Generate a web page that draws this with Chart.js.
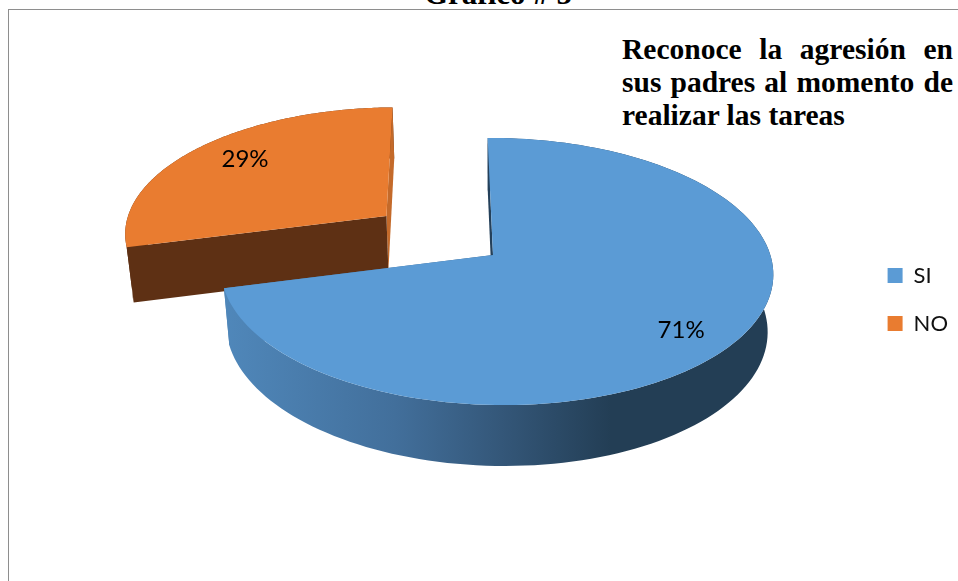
<!DOCTYPE html>
<html>
<head>
<meta charset="utf-8">
<script src="https://cdn.jsdelivr.net/npm/chart.js@4"></script>
<style>
  html, body { margin: 0; padding: 0; background: #fff; overflow: hidden; }
  #wrap { position: relative; width: 958px; height: 581px; overflow: hidden; }
  #frame { position: absolute; left: 8px; top: 9px; width: 960px; height: 600px; border: 1px solid #8e8e8e; }
  canvas { position: absolute; left: 0; top: 0; }
  #heading { position: absolute; left: 424px; top: -24px; font: bold 31px "Liberation Serif"; color: #000; white-space: nowrap; }
  #subtitle { position: absolute; left: 622px; top: 32.5px; width: 331px; font: bold 29.5px/33.4px "Liberation Serif"; color: #000; }
  #subtitle div { text-align: justify; text-align-last: justify; white-space: normal; }
  #subtitle div:last-child { text-align-last: left; }
</style>
</head>
<body>
<div id="wrap">
  <div id="frame"></div>
  <div id="heading">Gráfico # 5</div>
  <div id="subtitle">
    <div>Reconoce la agresión en</div>
    <div>sus padres al momento de</div>
    <div>realizar las tareas</div>
  </div>
  <canvas id="pie" width="958" height="581"></canvas>
</div>
<script>
var categories = ["SI", "NO"];
var percents = [71, 29];
var colors = ["#5b9bd5", "#e97c30"];

// how the flat pie is tilted on screen
var view = {
  cx: 493, cy: 255,
  a: 274, b: 131.5, skew: 6,
  k: 0.1236, n: -0.012,
  depth: 57.6, shrink: 0.02
};
var explode = [0, 0.505];
var labelAt = [0.82, 0.77];
var labelTurn = [0.045, 0.04];
var startFace = ["#24405a", "#5e3014"];
var endFace = [null, "#c46a2a"];

function project(u, v, z) {
  var w = 1 + view.k * v + view.n * u + view.shrink * z;
  return {
    x: view.cx + (view.a * u - view.skew * v) / w,
    y: view.cy + (-view.b * v + view.depth * z) / w
  };
}

function arcPoints(arc, i, z) {
  var mid = (arc.startAngle + arc.endAngle) / 2;
  var du = Math.cos(mid) * explode[i], dv = -Math.sin(mid) * explode[i];
  var pts = [];
  var steps = 140;
  for (var s = 0; s <= steps; s++) {
    var t = arc.startAngle + (arc.endAngle - arc.startAngle) * s / steps;
    pts.push(project(du + Math.cos(t), dv - Math.sin(t), z));
  }
  return { pts: pts, apex: project(du, dv, z) };
}

function fillPath(ctx, pts, style) {
  ctx.beginPath();
  ctx.moveTo(pts[0].x, pts[0].y);
  for (var i = 1; i < pts.length; i++) ctx.lineTo(pts[i].x, pts[i].y);
  ctx.closePath();
  ctx.fillStyle = style;
  ctx.fill();
}

function drawSlice(ctx, arc, i) {
  var up = arcPoints(arc, i, 0);
  var down = arcPoints(arc, i, 1);
  var last = up.pts.length - 1;

  // outer wall, blue one gets the shaded band
  var wall = startFace[i];
  if (i == 0) {
    var g = ctx.createLinearGradient(view.cx - view.a, 0, view.cx + view.a * 0.43, 0);
    g.addColorStop(0, "#5088bb");
    g.addColorStop(0.45, "#426f9b");
    g.addColorStop(0.72, "#345779");
    g.addColorStop(1, "#233e55");
    wall = g;
  }
  fillPath(ctx, up.pts.concat(down.pts.slice().reverse()), wall);

  // flat cut faces
  fillPath(ctx, [up.apex, up.pts[last], down.pts[last], down.apex], endFace[i] || wall);
  fillPath(ctx, [up.apex, up.pts[0], down.pts[0], down.apex], startFace[i]);

  // top
  fillPath(ctx, [up.apex].concat(up.pts), colors[i]);
}

var tiltedPie = {
  id: "tiltedPie",
  beforeDatasetDraw: function(chart, args) {
    var ctx = chart.ctx;
    var arcs = chart.getDatasetMeta(args.index).data;
    ctx.save();
    // back slice first
    drawSlice(ctx, arcs[1], 1);
    drawSlice(ctx, arcs[0], 0);
    ctx.fillStyle = "#000";
    ctx.font = '24px Lato';
    ctx.textAlign = "center";
    ctx.textBaseline = "middle";
    arcs.forEach(function(arc, i) {
      var mid = (arc.startAngle + arc.endAngle) / 2;
      var t = mid + labelTurn[i];
      var u = Math.cos(mid) * explode[i] + Math.cos(t) * labelAt[i];
      var v = -Math.sin(mid) * explode[i] - Math.sin(t) * labelAt[i];
      var p = project(u, v, 0);
      ctx.fillText(percents[i] + "%", p.x, p.y);
    });
    ctx.restore();
    return false;
  }
};

new Chart(document.getElementById("pie"), {
  type: "pie",
  data: {
    labels: categories,
    datasets: [{ data: percents, backgroundColor: colors, borderWidth: 0 }]
  },
  options: {
    responsive: false,
    animation: false,
    layout: { padding: { left: 108, right: 0, top: 18, bottom: 0 } },
    plugins: {
      tooltip: { enabled: false },
      legend: {
        position: "right",
        labels: {
          boxWidth: 15,
          boxHeight: 15,
          padding: 26,
          color: "#111",
          font: { family: "Lato", size: 22 }
        }
      }
    }
  },
  plugins: [tiltedPie]
});
</script>
</body>
</html>
